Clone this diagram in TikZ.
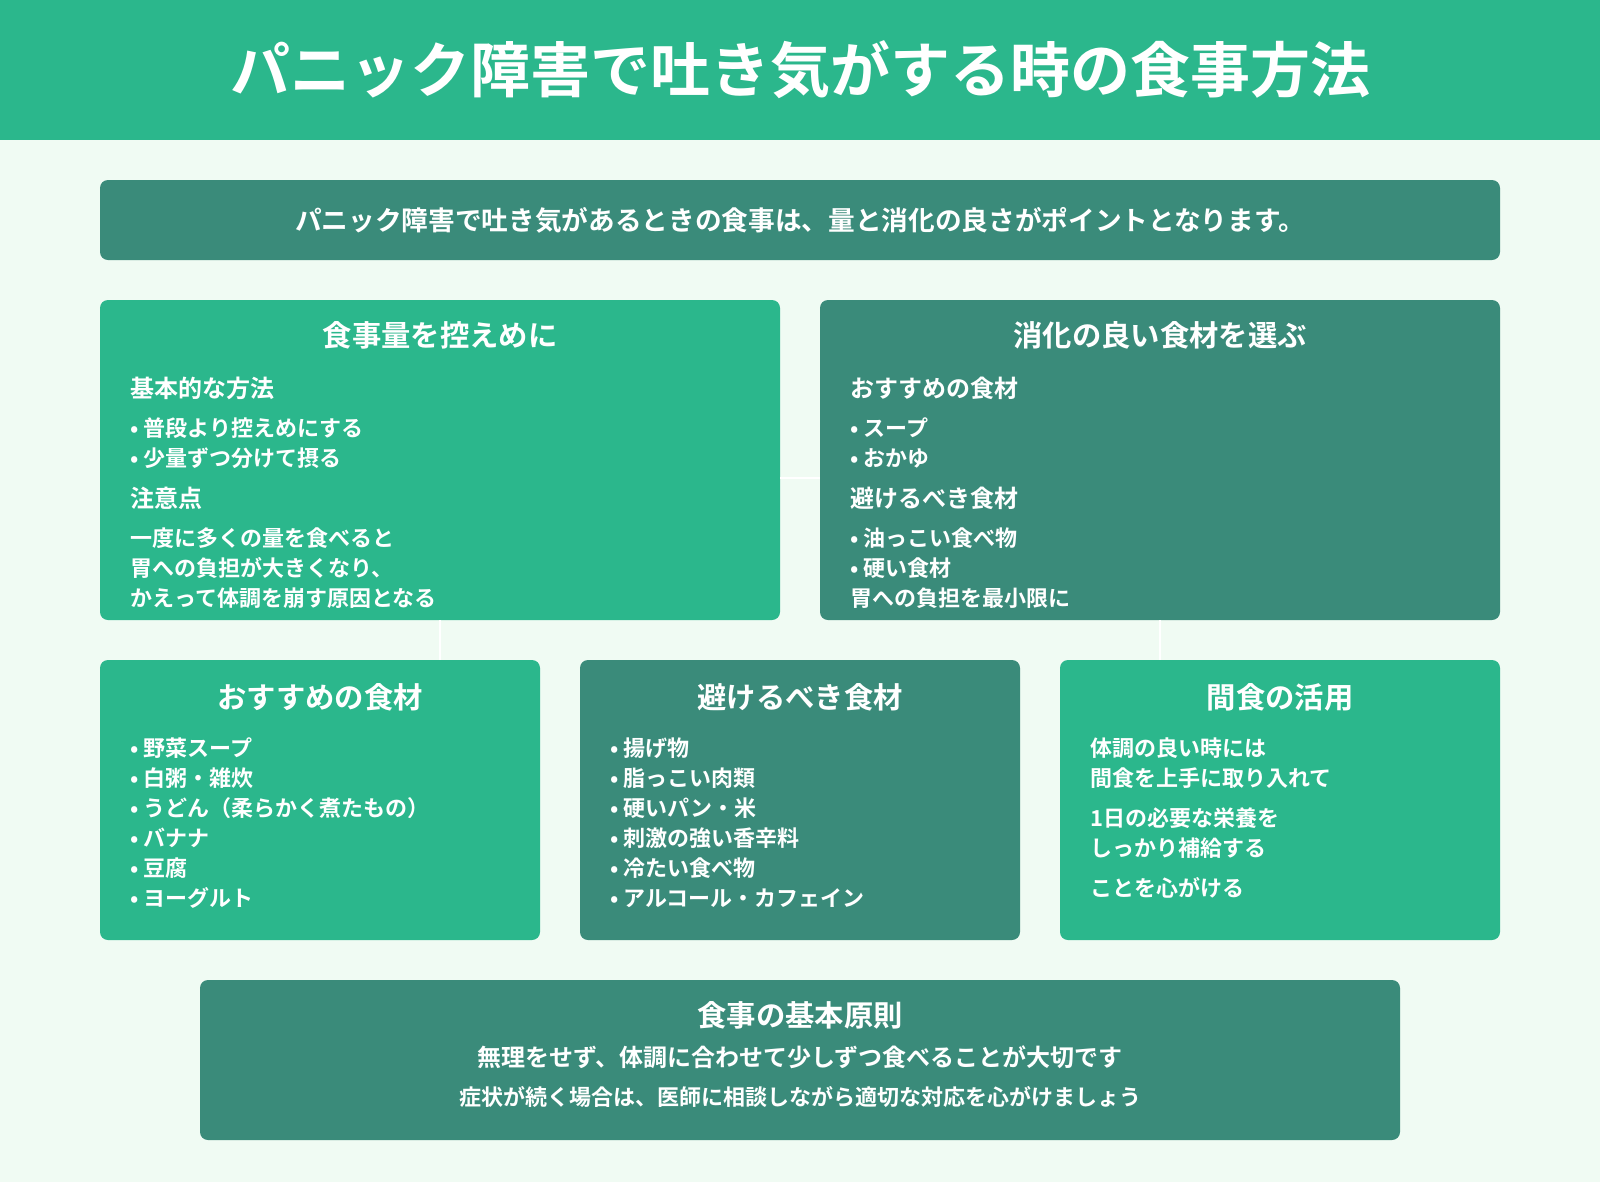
\documentclass[tikz,border=0pt]{standalone}
\usepackage{fontspec}
\setmainfont{Noto Sans CJK JP}[BoldFont={Noto Sans CJK JP Bold}]
\definecolor{hdr}{HTML}{2BB78C}
\definecolor{drk}{HTML}{3A8B7A}
\definecolor{bgc}{HTML}{F0FBF3}
\begin{document}
\begin{tikzpicture}[x=0.75pt,y=-0.75pt,
  gbox/.style={fill=hdr,rounded corners=6pt,draw=none},
  dbox/.style={fill=drk,rounded corners=6pt,draw=none},
  ttl/.style={text=white,font=\bfseries\fontsize{22}{26}\selectfont,anchor=center,inner sep=0},
  sub/.style={text=white,font=\bfseries\fontsize{18}{22}\selectfont,anchor=west,inner sep=0},
  itm/.style={text=white,font=\bfseries\fontsize{16.5}{20}\selectfont,anchor=west,inner sep=0},
  con/.style={draw=white,line width=2.2pt}]
\fill[bgc] (0,0) rectangle (1600,1182);
\useasboundingbox (0,0) rectangle (1600,1182);
\fill[hdr] (0,0) rectangle (1600,140);
\node[text=white,font=\bfseries\fontsize{45}{50}\selectfont,inner sep=0] (title) at (800,70) {パニック障害で吐き気がする時の食事方法};
% intro
\fill[dbox] (100,180) rectangle (1500,260);
\node[text=white,font=\bfseries\fontsize{20}{24}\selectfont,inner sep=0] (intro) at (800,220) {パニック障害で吐き気があるときの食事は、量と消化の良さがポイントとなります。};
% boxes
\node[gbox,minimum width=680*0.75pt,minimum height=320*0.75pt,inner sep=0] (A) at (440,460) {};
\node[dbox,minimum width=680*0.75pt,minimum height=320*0.75pt,inner sep=0] (B) at (1160,460) {};
\node[gbox,minimum width=440*0.75pt,minimum height=280*0.75pt,inner sep=0] (C) at (320,800) {};
\node[dbox,minimum width=440*0.75pt,minimum height=280*0.75pt,inner sep=0] (D) at (800,800) {};
\node[gbox,minimum width=440*0.75pt,minimum height=280*0.75pt,inner sep=0] (E) at (1280,800) {};
\node[dbox,minimum width=1200*0.75pt,minimum height=160*0.75pt,inner sep=0] (F) at (800,1060) {};
% connectors
\coordinate (ab1) at (780,478); \coordinate (ab2) at (820,478);
\draw[con] (A.east |- ab1) -- (B.west |- ab2);
\draw[con] (A.south) -- (C.north -| A.south);
\draw[con] (B.south) -- (E.north -| B.south);
% A
\node[ttl] at (440,335) {食事量を控えめに};
\node[sub] at (130,388) {基本的な方法};
\node[itm] at (130,428) {• 普段より控えめにする};
\node[itm] at (130,458) {• 少量ずつ分けて摂る};
\node[sub] at (130,498) {注意点};
\node[itm] at (130,538) {一度に多くの量を食べると};
\node[itm] at (130,568) {胃への負担が大きくなり、};
\node[itm] at (130,598) {かえって体調を崩す原因となる};
% B
\node[ttl] at (1160,335) {消化の良い食材を選ぶ};
\node[sub] at (850,388) {おすすめの食材};
\node[itm] at (850,428) {• スープ};
\node[itm] at (850,458) {• おかゆ};
\node[sub] at (850,498) {避けるべき食材};
\node[itm] at (850,538) {• 油っこい食べ物};
\node[itm] at (850,568) {• 硬い食材};
\node[itm] at (850,598) {胃への負担を最小限に};
% C
\node[ttl] at (320,697) {おすすめの食材};
\node[itm] at (130,748) {• 野菜スープ};
\node[itm] at (130,778) {• 白粥・雑炊};
\node[itm] at (130,808) {• うどん（柔らかく煮たもの）};
\node[itm] at (130,838) {• バナナ};
\node[itm] at (130,868) {• 豆腐};
\node[itm] at (130,898) {• ヨーグルト};
% D
\node[ttl] at (800,697) {避けるべき食材};
\node[itm] at (610,748) {• 揚げ物};
\node[itm] at (610,778) {• 脂っこい肉類};
\node[itm] at (610,808) {• 硬いパン・米};
\node[itm] at (610,838) {• 刺激の強い香辛料};
\node[itm] at (610,868) {• 冷たい食べ物};
\node[itm] at (610,898) {• アルコール・カフェイン};
% E
\node[ttl] at (1280,697) {間食の活用};
\node[itm] at (1090,748) {体調の良い時には};
\node[itm] at (1090,778) {間食を上手に取り入れて};
\node[itm] at (1090,818) {1日の必要な栄養を};
\node[itm] at (1090,848) {しっかり補給する};
\node[itm] at (1090,888) {ことを心がける};
% F
\node[ttl] at (800,1015) {食事の基本原則};
\node[text=white,font=\bfseries\fontsize{18}{22}\selectfont,inner sep=0] at (800,1057) {無理をせず、体調に合わせて少しずつ食べることが大切です};
\node[text=white,font=\bfseries\fontsize{16.5}{20}\selectfont,inner sep=0] at (800,1097) {症状が続く場合は、医師に相談しながら適切な対応を心がけましょう};
\end{tikzpicture}
\end{document}
